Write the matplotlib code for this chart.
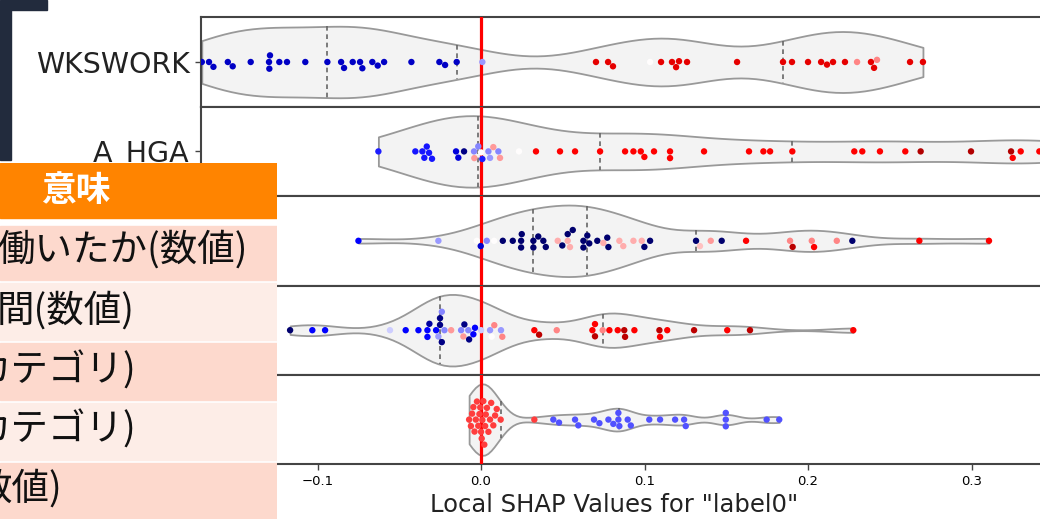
import matplotlib.pyplot as plt
import numpy as np
import seaborn as sns
from matplotlib.patches import Rectangle

# %% --- DATOS ---
features = ['WKSWORK', 'A_HGA', '', '', '']

wkswork_shap = [-0.1708, -0.1664, -0.1637, -0.1549, -0.1519, -0.1409, -0.1297, -0.1295, -0.1291,
                -0.1234, -0.1187, -0.1075, -0.0940, -0.0856, -0.0838, -0.0785, -0.0740, -0.0726,
                -0.0665, -0.0632, -0.0593, -0.0426, -0.0255, -0.0220, -0.0149, 0.0008,
                0.0703, 0.0777, 0.0807, 0.1034, 0.1101, 0.1168, 0.1193, 0.1211, 0.1260, 0.1566,
                0.1847, 0.1902, 0.2000, 0.2080, 0.2116, 0.2153, 0.2226, 0.2300, 0.2385, 0.2404,
                0.2422, 0.2624, 0.2703]
wkswork_val = [0.17] * 25 + [0.40] + [0.80, 0.80, 0.80, 0.50, 0.80, 0.80, 0.80, 0.80, 0.80, 0.80,
                                      0.80, 0.80, 0.80, 0.80, 0.80, 0.80, 0.80, 0.62, 0.80, 0.80,
                                      0.62, 0.80, 0.80]

ahga_shap = [-0.0628, -0.0402, -0.0359, -0.0347, -0.0332, -0.0318, -0.0300, -0.0153, -0.0139,
             -0.0104, -0.0043, -0.0041, -0.0017, 0.0000, 0.0008, 0.0045, 0.0055, 0.0075, 0.0106,
             0.0116, 0.0232, 0.0336, 0.0483, 0.0575, 0.0728, 0.0881, 0.0932, 0.0977, 0.0999,
             0.1058, 0.1156, 0.1156, 0.1364, 0.1639, 0.1727, 0.1768, 0.1904, 0.2283, 0.2332,
             0.2440, 0.2595, 0.2689, 0.2997, 0.3242, 0.3252, 0.3301, 0.3415, 0.3560, 0.3790]
ahga_val = [0.28, 0.27, 0.27, 0.27, 0.27, 0.27, 0.27, 0.20, 0.20, 0.08, 0.38, 0.60, 0.38, 0.50,
            0.28, 0.38, 0.40, 0.60, 0.38, 0.60, 0.50,
            0.75, 0.75, 0.75, 0.75, 0.75, 0.75, 0.75, 0.75, 0.75, 0.75, 0.75, 0.75, 0.75, 0.75,
            0.75, 0.75, 0.75, 0.75, 0.75, 0.75, 0.90, 0.90, 0.90, 0.75, 0.75, 0.75, 0.80, 0.80]

row3_shap = [-0.0750, -0.0261, -0.0026, -0.0002, 0.0035, 0.0080, 0.0133, 0.0194, 0.0245, 0.0245,
             0.0249, 0.0320, 0.0320, 0.0350, 0.0381, 0.0396, 0.0469, 0.0497, 0.0530, 0.0530,
             0.0544, 0.0561, 0.0626, 0.0626, 0.0650, 0.0662, 0.0711, 0.0748, 0.0772, 0.0779,
             0.0846, 0.0870, 0.0932, 0.0983, 0.0999, 0.1034, 0.1315, 0.1339, 0.1405, 0.1472,
             0.1621, 0.1890, 0.1906, 0.2023, 0.2037, 0.2176, 0.2271, 0.2681, 0.3107]
row3_val = [0.25, 0.40, 0.50, 0.18, 0.38, 0.50, 0.05, 0.05, 0.05, 0.05,
            0.05, 0.05, 0.05, 0.05, 0.05, 0.05, 0.58, 0.05, 0.58, 0.05,
            0.58, 0.05, 0.05, 0.05, 0.05, 0.05, 0.05, 0.58, 0.05, 0.05,
            0.58, 0.58, 0.58, 0.58, 0.05, 0.05, 0.05, 0.56, 0.60, 0.05,
            0.75, 0.62, 0.88, 0.62, 0.75, 0.62, 0.05, 0.75, 0.75]

row4_shap = [-0.1168, -0.1032, -0.0954, -0.0557, -0.0461, -0.0383, -0.0328, -0.0328, -0.0316,
             -0.0275, -0.0261, -0.0251, -0.0251, -0.0240, -0.0240, -0.0224, -0.0183, -0.0122,
             -0.0108, -0.0102, -0.0078, -0.0073, -0.0047, -0.0037, 0.0000, 0.0055, 0.0065,
             0.0081, 0.0122, 0.0130, 0.0326, 0.0355, 0.0463, 0.0681, 0.0697, 0.0697, 0.0744,
             0.0785, 0.0836, 0.0876, 0.0881, 0.0938, 0.1091, 0.1095, 0.1139, 0.1303, 0.1506,
             0.1645, 0.2277]
row4_val = [0.05, 0.25, 0.25, 0.45, 0.25, 0.25, 0.25, 0.25, 0.12, 0.25, 0.40, 0.08, 0.08, 0.08,
            0.38, 0.38, 0.60, 0.38, 0.60, 0.08, 0.38, 0.08, 0.25, 0.25, 0.45, 0.40, 0.50, 0.62,
            0.40, 0.62, 0.75, 0.88, 0.62, 0.75, 0.88, 0.75, 0.62, 0.75, 0.75, 0.88, 0.88, 0.75,
            0.88, 0.75, 0.75, 0.88, 0.75, 0.88, 0.75]

row5_shap = [-0.0073, -0.0062, -0.0055, -0.0047, -0.0040, -0.0032, -0.0025, -0.0017, -0.0010,
             -0.0005, 0.0000, 0.0004, 0.0008, 0.0014, 0.0020, 0.0025, 0.0029, 0.0036, 0.0045,
             0.0055, 0.0062, 0.0075, 0.0086, 0.0096, 0.0120, 0.0326,
             0.0442, 0.0477, 0.0575, 0.0595, 0.0691, 0.0724, 0.0779, 0.0809, 0.0840, 0.0840,
             0.0846, 0.0897, 0.0916, 0.1029, 0.1095, 0.1187, 0.1242, 0.1252, 0.1497, 0.1497,
             0.1497, 0.1747, 0.1824]
row5_val = [0.69] * 26 + [0.33] * 23

shap_rows = [wkswork_shap, ahga_shap, row3_shap, row4_shap, row5_shap]
val_rows = [wkswork_val, ahga_val, row3_val, row4_val, row5_val]
bw_rows = [0.4, 0.55, 0.5, 0.45, 0.3]

xticks = [-0.1, 0.0, 0.1, 0.2, 0.3]

table_header = '意味'
table_texts = ['働いたか(数値)', '間(数値)', 'カテゴリ)', 'カテゴリ)', '数値)']

# %% --- FIGURA ---
W, H = 1040, 519
fig = plt.figure(figsize=(W / 100, H / 100), dpi=100)

# fondo oscuro arriba a la izquierda
fig.patches.append(Rectangle((0, 1 - 10 / H), 47 / W, 10 / H, transform=fig.transFigure,
                             color='#222b3d', zorder=0))
fig.patches.append(Rectangle((0, 1 - 160 / H), 11 / W, 150 / H, transform=fig.transFigure,
                             color='#222b3d', zorder=0))

top0, step = 17.3, 89.4
x_left, x_right = -0.1713, 0.3786

axes = []
for i in range(5):
    top = top0 + i * step
    ax = fig.add_axes([201 / W, 1 - (top + step) / H, 899 / W, step / H])
    shap = np.array(shap_rows[i])
    vals = np.array(val_rows[i])

    sns.violinplot(x=shap, ax=ax, orient='h', cut=0, inner='quart', color='#f3f3f3',
                   saturation=1, linecolor='#999999', linewidth=1.3, width=0.8,
                   bw_adjust=bw_rows[i],
                   inner_kws=dict(color='#666666', linewidth=1.2, dashes=(2.8, 2.2)))
    n0 = len(ax.collections)
    sns.swarmplot(x=shap, hue=vals, palette='seismic', hue_norm=(0, 1), size=4.6,
                  ax=ax, orient='h', legend=False, linewidth=0)
    for c in ax.collections[n0:]:
        c.set_zorder(4)
    ax.axvline(0, color='red', lw=2.3, zorder=3)

    ax.set_xlim(x_left, x_right)
    ax.set_ylim(0.5, -0.5)
    ax.set_yticks([0])
    ax.set_yticklabels([features[i]], fontsize=20.5, color='#222222')
    ax.set_xticks(xticks)
    ax.set_xlabel('')
    ax.set_ylabel('')
    ax.tick_params(axis='y', length=4, width=1, color='#444444', pad=4)
    ax.tick_params(axis='x', labelsize=9.5, length=4, width=1, color='#444444',
                   bottom=(i == 4), labelbottom=(i == 4))
    for s in ['top', 'bottom', 'left']:
        ax.spines[s].set_color('#444444')
        ax.spines[s].set_linewidth(1.5)
    ax.spines['right'].set_visible(False)
    axes.append(ax)

fig.text(614 / W, 1 - 505 / H, 'Local SHAP Values for "label0"', ha='center', va='center',
         fontsize=17.5, color='#222222')

# %% --- TABLA SUPERPUESTA ---
tab = fig.add_axes([0, 0, 277 / W, 356 / H])
tab.set_xlim(0, 277)
tab.set_ylim(519, 163)
tab.set_axis_off()
tab.add_patch(Rectangle((0, 163), 277, 356, color='white', zorder=0))
tab.add_patch(Rectangle((0, 163), 277, 54.5, color='#ff8400', zorder=1))

row_tops = [225.7, 282.5, 342.7, 402.5, 462.7]
row_bots = [279.5, 340.0, 399.5, 460.0, 519.0]
row_cols = ['#fdd9cd', '#fdede7', '#fdd9cd', '#fdede7', '#fdd9cd']
text_right = [248, 135, 137, 137, 62]
text_y = [250, 311, 371, 430, 489]

cjk = ['Noto Sans CJK JP', 'DejaVu Sans']
tab.text(76, 190, table_header, ha='center', va='center', fontsize=25, fontweight='bold',
         color='white', family=cjk)
for k in range(5):
    tab.add_patch(Rectangle((0, row_tops[k]), 277, row_bots[k] - row_tops[k],
                            color=row_cols[k], zorder=1))
    tab.text(text_right[k], text_y[k], table_texts[k], ha='right', va='center',
             fontsize=27, color='#111111', family=cjk, zorder=2)

fig.savefig('out.png', dpi=100)
